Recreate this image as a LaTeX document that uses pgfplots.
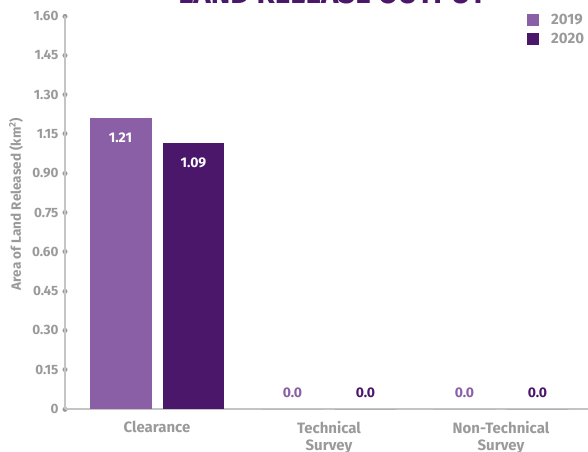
\documentclass[border=0pt]{standalone}
\usepackage{fontspec}
\setmainfont{Fira Sans}
\usepackage{pgfplots}
\pgfplotsset{compat=1.18}

\definecolor{p19}{HTML}{8A5FA6}
\definecolor{p20}{HTML}{4B176B}
\definecolor{txtgray}{HTML}{9A9A9A}
\definecolor{axgray}{HTML}{C4C4C4}

\begin{document}
\begin{tikzpicture}
% page frame; the oversized title runs past its top edge
\path[use as bounding box, clip] (-65pt,-42pt) rectangle (523pt,409pt);
\begin{axis}[
  at={(0pt,0pt)}, anchor=south west,
  width=523pt, height=393pt, scale only axis,
  xmin=-0.535, xmax=2.506, ymin=0, ymax=1.5,
  % the value axis is compressed between 0.90 and 1.15
  y filter/.expression={y<=0.9 ? y : (y<=1.15 ? 0.9+(y-0.9)*0.6 : y-0.1)},
  axis x line*=bottom, axis y line*=left,
  axis line style={axgray, line width=1.5pt},
  xtick={0,1,2},
  xticklabels={Clearance, Technical\\Survey, Non-Technical\\Survey},
  xticklabel style={align=center, text=txtgray,
    font=\bfseries\fontsize{15}{17}\selectfont, yshift=-9pt},
  xtick style={draw=none},
  ytick={0,0.15,0.3,0.45,0.6,0.75,0.9,1.05,1.2,1.35,1.5},
  yticklabels={0,0.15,0.30,0.45,0.60,0.75,0.90,1.15,1.30,1.45,1.60},
  yticklabel style={text=txtgray, font=\bfseries\fontsize{13.5}{15}\selectfont, xshift=-3pt},
  ytick style={txtgray, line width=5pt, line cap=round},
  major tick length=0.01pt, tick align=center,
  ylabel={Area of Land Released (km\textsuperscript{2})},
  every axis y label/.style={at={(axis description cs:-0.0937,0.522)}, rotate=90,
    anchor=center, text=txtgray,
    font=\bfseries\fontsize{13.5}{15}\selectfont},
  title={LAND RELEASE OUTPUT},
  title style={at={(0.511,1)}, anchor=base, yshift=7pt, text=p20,
    font=\bfseries\fontsize{29.5}{30}\selectfont},
  legend image code/.code={\fill[#1, draw=none] (0pt,-6pt) rectangle (12pt,6pt);},
  legend style={draw=none, fill=none, at={(0.8834,1.005)}, anchor=north west,
    inner sep=0pt, row sep=7pt, text=txtgray,
    font=\bfseries\fontsize{15}{15}\selectfont,
    nodes={inner sep=0pt}},
  legend cell align=left,
  point meta=explicit symbolic,
  clip=false,
]
\addlegendimage{fill=p19}
\addlegendentry{\hspace{12pt}2019}
\addlegendimage{fill=p20}
\addlegendentry{\hspace{12pt}2020}

% Clearance, labelled inside the bar tops
\addplot[ybar, bar width=0.36, bar shift=-0.212, fill=p19, draw=none, forget plot,
  nodes near coords,
  every node near coord/.append style={anchor=north, xshift=-36.5pt, yshift=-11pt,
    text=white, font=\bfseries\fontsize{14}{15}\selectfont}]
  coordinates {(0,1.21) [1.21]};
\addplot[ybar, bar width=0.36, bar shift=0.212, fill=p20, draw=none, forget plot,
  nodes near coords,
  every node near coord/.append style={anchor=north, xshift=36.5pt, yshift=-11pt,
    text=white, font=\bfseries\fontsize{14}{15}\selectfont}]
  coordinates {(0,1.09) [1.09]};

% Technical and Non-Technical Survey, labelled above the base line
\addplot[ybar, bar width=0.36, bar shift=-0.212, fill=p19, draw=none, forget plot,
  nodes near coords,
  every node near coord/.append style={anchor=south, xshift=-36.5pt, yshift=8pt,
    text=p19, font=\bfseries\fontsize{14}{15}\selectfont}]
  coordinates {(1,0) [0.0] (2,0) [0.0]};
\addplot[ybar, bar width=0.36, bar shift=0.212, fill=p20, draw=none, forget plot,
  nodes near coords,
  every node near coord/.append style={anchor=south, xshift=36.5pt, yshift=8pt,
    text=p20, font=\bfseries\fontsize{14}{15}\selectfont}]
  coordinates {(1,0) [0.0] (2,0) [0.0]};
\end{axis}
\end{tikzpicture}
\end{document}
